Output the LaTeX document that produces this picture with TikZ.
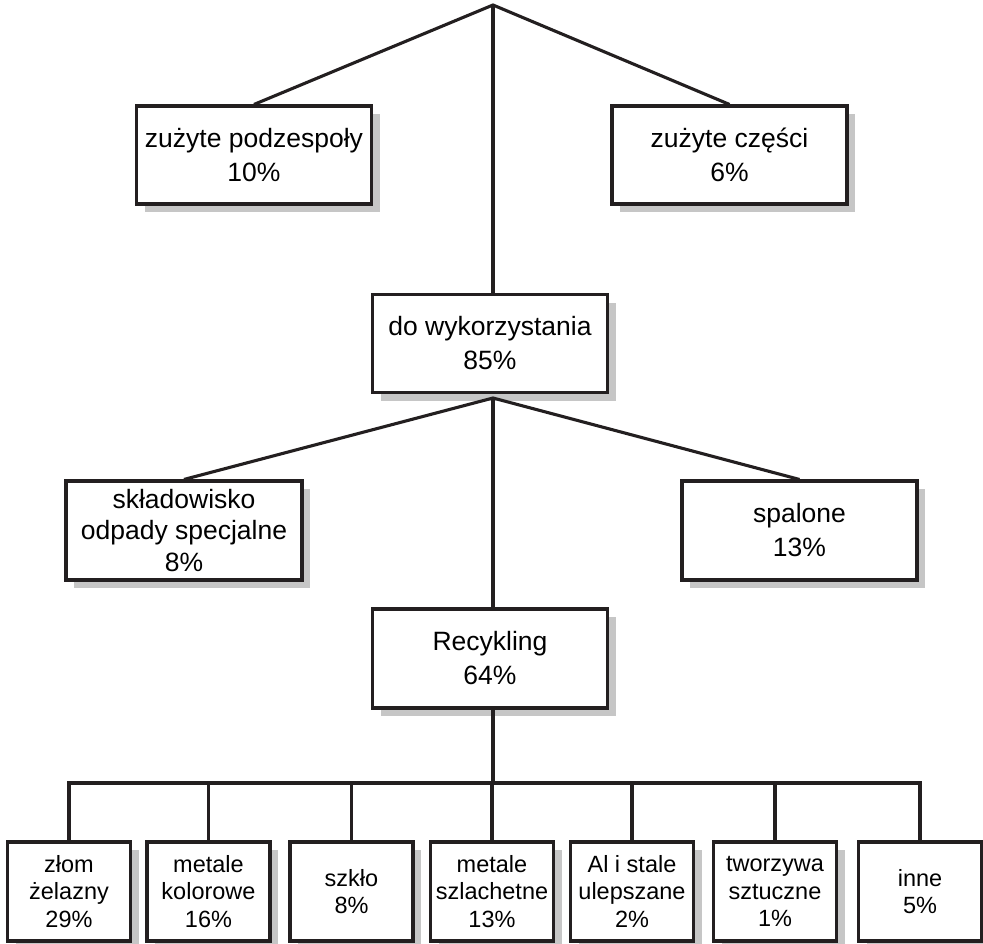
\documentclass[tikz,border=0pt]{standalone}
\usepackage{fontspec}
\setmainfont{Liberation Sans}
\usetikzlibrary{shadows}
\definecolor{ink}{HTML}{231F20}
\definecolor{shade}{HTML}{C6C6C6}
\begin{document}
\begin{tikzpicture}[x=1pt,y=-1pt,
  box/.style={draw=ink, line width=3.1pt, fill=white, inner sep=0pt, align=center,
    drop shadow={shadow xshift=8pt, shadow yshift=-8pt, fill=shade, opacity=1}},
  bigbox/.style={box, minimum width=235pt, minimum height=98pt,
    font=\fontsize{26.5}{34}\selectfont},
  smallbox/.style={box, minimum width=123pt, minimum height=99pt,
    font=\fontsize{23.5}{27.5}\selectfont},
  conn/.style={draw=ink, line width=3.1pt}]
\useasboundingbox (0,0) rectangle (983,943);

% top level
\coordinate (apex) at (493,5);
\node[bigbox] (zp) at (254,155) {zużyte podzespoły\\10\%};
\node[bigbox] (zc) at (729.5,155) {zużyte części\\6\%};
\node[bigbox] (dw) at (490,343.5) {do wykorzystania\\85\%};

% second level
\coordinate (apex2) at (493,398);
\node[bigbox, minimum width=236pt, minimum height=99pt, font=\fontsize{26.5}{31.5}\selectfont] (sk) at (184,530.5) {składowisko\\odpady specjalne\\8\%};
\node[bigbox, minimum height=99pt] (sp) at (799.5,530.5) {spalone\\13\%};
\node[bigbox, minimum height=99pt] (rec) at (490,658.5) {Recykling\\64\%};

% bottom level
\coordinate (bus) at (493,783);
\node[smallbox] (b1) at (69,891.5) {złom\\żelazny\\29\%};
\node[smallbox] (b2) at (208.5,891.5) {metale\\kolorowe\\16\%};
\node[smallbox] (b3) at (351.5,891.5) {szkło\\8\%};
\node[smallbox] (b4) at (492,891.5) {metale\\szlachetne\\13\%};
\node[smallbox] (b5) at (632,891.5) {Al i stale\\ulepszane\\2\%};
\node[smallbox] (b6) at (775,891.5) {tworzywa\\sztuczne\\1\%};
\node[smallbox] (b7) at (920,891.5) {inne\\5\%};

% connectors
\draw[conn, line join=miter] (zp.north) -- (apex) -- (zc.north);
\draw[conn] (apex) -- (apex |- dw.north);
\draw[conn, line join=miter] (sk.north) -- (apex2) -- (sp.north);
\draw[conn] (apex2) -- (apex2 |- rec.north);
\draw[conn] (bus |- rec.south) -- (bus);
\draw[conn, line cap=rect] (b1.north |- bus) -- (b7.north |- bus);
\foreach \b in {b1,b2,b3,b4,b5,b6,b7}{
  \draw[conn] (\b.north |- bus) -- (\b.north);
}
\end{tikzpicture}
\end{document}
